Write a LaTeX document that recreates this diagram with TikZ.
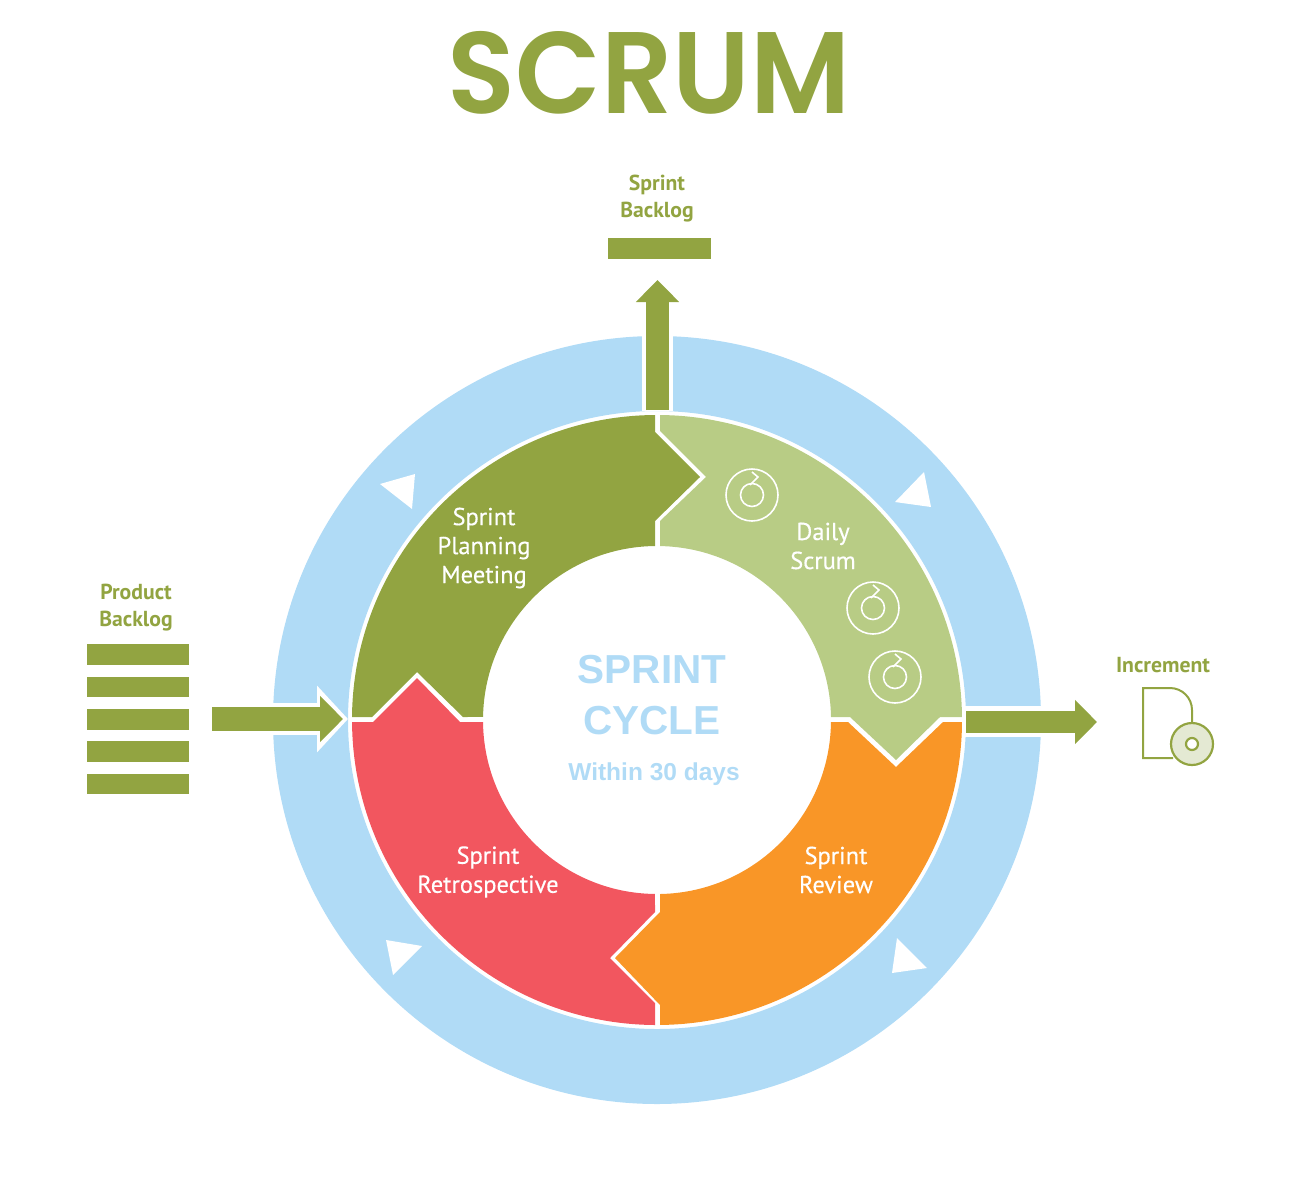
\documentclass[tikz,border=0pt]{standalone}
\usepackage{fontspec}
\setmainfont{PT Sans}
\newfontfamily\titlefont{Poppins SemiBold}
\newfontfamily\arialfont{Liberation Sans}
\newfontfamily\segfont[FakeBold=0.35]{PT Sans}
\usetikzlibrary{arrows.meta}
\definecolor{olive}{HTML}{92A441}
\definecolor{lightolive}{HTML}{B8CC85}
\definecolor{ringblue}{HTML}{B0DBF6}
\definecolor{sprintorange}{HTML}{F99627}
\definecolor{sprintred}{HTML}{F2565F}
\definecolor{discfill}{HTML}{E4E9D3}
\tikzset{
  seglabel/.style={text=white,align=center,font=\segfont\fontsize{24.5}{29}\selectfont},
  itemlabel/.style={text=olive,align=center,font=\fontsize{21.7}{27}\selectfont\bfseries},
  backlogbar/.style={fill=olive},
  flowarrow/.style={draw=olive,line width=#1},
  halo/.style={draw=white,line width=#1},
  cycletext/.style={text=ringblue,font=\arialfont\bfseries\fontsize{40.5}{40.5}\selectfont}
}
\begin{document}
\begin{tikzpicture}[x=1pt,y=1pt,yscale=-1]
  \useasboundingbox (0,0) rectangle (1306,1192);
  \coordinate (c) at (657,720);
  \node (title) at (649,73) [text=olive,xscale=0.96,transform shape,yscale=-1,font=\titlefont\fontsize{116}{116}\selectfont] {SCRUM};
  \fill[ringblue,even odd rule] (c) circle (384pt) (c) circle (309pt);

  \fill[white] (380,484) -- (415,474) -- (412,509) -- cycle;
  \fill[white] (895,502) -- (924,472) -- (931,507) -- cycle;
  \fill[white] (897,938) -- (927,968) -- (892,973) -- cycle;
  \fill[white] (386,940) -- (422,946) -- (393,975) -- cycle;

  \fill[olive] (655,415) -- (655,432) -- (700,477) -- (655,521) -- (655,546)
    arc[start angle=269.34,end angle=181,radius=174pt] -- (463,717) -- (417,672) -- (372,717) -- (352,717)
    arc[start angle=180.56,end angle=269.62,radius=305pt] -- cycle;
  \fill[lightolive] (660,415) arc[start angle=270.56,end angle=359.44,radius=305pt]
    -- (940,717) -- (896,760) -- (850,717) -- (831,717)
    arc[start angle=359,end angle=271,radius=174pt] -- (660,521) -- (706,477) -- (660,431) -- cycle;
  \fill[sprintorange] (962,722) arc[start angle=0.38,end angle=89.44,radius=305pt]
    -- (660,1005) -- (615,958) -- (660,912) -- (660,894)
    arc[start angle=89.01,end angle=0.66,radius=174pt] -- (848,722) -- (896,767) -- (943,722) -- cycle;
  \fill[sprintred] (655,1025) arc[start angle=90.38,end angle=179.62,radius=305pt]
    -- (373,722) -- (417,678) -- (460,722) -- (483,722)
    arc[start angle=179.34,end angle=90.66,radius=174pt] -- (655,912) -- (610,958) -- (655,1003) -- cycle;

  \foreach \px/\py in {752/495,873/608,895/677} {
    \draw[white,line width=1.6pt] (\px,\py) circle (26pt) (\px,\py) circle (11.5pt);
    \draw[white,line width=1.6pt] (\px,\py) ++(0,-23) -- ++(6,5) -- ++(-8,8);
  }

  \node[seglabel] (planning) at (484,548) {Sprint\\Planning\\Meeting};
  \node[seglabel] (daily) at (823,546) {Daily\\Scrum};
  \node[seglabel] (review) at (836,870) {Sprint\\Review};
  \node[seglabel] (retro) at (488,872) {Sprint\\Retrospective};

  \node[cycletext] (sprintword) at (652,670) {SPRINT};
  \node[cycletext] (cycleword) at (652,721) {CYCLE};
  \node[text=ringblue,font=\arialfont\bfseries\fontsize{24.5}{24.5}\selectfont] (within) at (654,774) {Within 30 days};

  \coordinate (topstart) at (657.5,410);
  \coordinate (toptip) at (657.5,280);
  \coordinate (rightstart) at (966,722);
  \coordinate (righttip) at (1097,722);
  \coordinate (leftstart) at (212,719);
  \coordinate (lefttip) at (343,719);

  \fill[white] (642,330) rectangle (673,411);
  \fill[white] (962,706) rectangle (1045,737);
  \draw[halo=32pt,-{Triangle[length=31pt,width=65pt]}] (leftstart) -- (348,719);
  \draw[flowarrow=23pt,-{Triangle[length=22pt,width=42pt]}] (topstart) -- (toptip);
  \draw[flowarrow=22pt,-{Triangle[length=22pt,width=43pt]}] (rightstart) -- (righttip);
  \draw[flowarrow=24pt,-{Triangle[length=23pt,width=45pt]}] (leftstart) -- (lefttip);

  \node[itemlabel] (sprintbacklog) at (657,199) {Sprint\\Backlog};
  \fill[backlogbar] (608,238) rectangle (711,259);
  \node[itemlabel] (productbacklog) at (136,608) {Product\\Backlog};
  \foreach \ytop in {644,676.5,709,741,773.5} {
    \fill[backlogbar] (87,\ytop) rectangle (189,\ytop+20.5);
  }

  \node[itemlabel] (increment) at (1163,665) {Increment};
  \draw[olive,line width=2pt] (1173,758) -- (1143,758) -- (1143,688) -- (1170,688)
    arc[start angle=270,end angle=360,radius=22pt] -- (1192,725);
  \draw[olive,line width=2.2pt,fill=discfill] (1192,744) circle (21pt);
  \draw[olive,line width=2.2pt,fill=white] (1192,744) circle (6pt);
\end{tikzpicture}
\end{document}
